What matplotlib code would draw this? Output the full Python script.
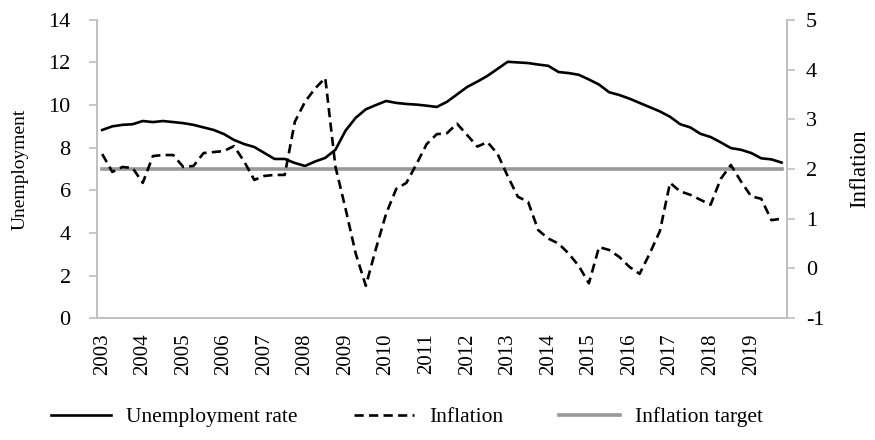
import numpy as np
import matplotlib
matplotlib.use("Agg")
import matplotlib.pyplot as plt

plt.rcParams['font.family'] = ['Liberation Serif', 'DejaVu Serif']
plt.rcParams['axes.unicode_minus'] = False

# quarterly data 2003Q1 - 2019Q4
years = list(range(2003, 2020))
unemployment = [
    8.83, 9.00, 9.07, 9.10, 9.25, 9.20, 9.25, 9.20,
    9.15, 9.07, 8.95, 8.83, 8.64, 8.36, 8.17, 8.03,
    7.75, 7.47, 7.47, 7.28, 7.14, 7.35, 7.52, 7.90,
    8.80, 9.40, 9.80, 10.00, 10.19, 10.10, 10.05, 10.02,
    9.97, 9.91, 10.15, 10.50, 10.85, 11.10, 11.37, 11.70,
    12.03, 12.00, 11.97, 11.90, 11.84, 11.55, 11.50, 11.42,
    11.20, 10.96, 10.60, 10.47, 10.30, 10.10, 9.90, 9.70,
    9.45, 9.10, 8.95, 8.65, 8.50, 8.25, 7.98, 7.90,
    7.75, 7.50, 7.45, 7.30,
]
inflation = [
    2.30, 1.94, 2.04, 2.02, 1.72, 2.26, 2.28, 2.28,
    2.04, 2.06, 2.32, 2.34, 2.36, 2.46, 2.15, 1.78,
    1.86, 1.88, 1.88, 2.95, 3.35, 3.62, 3.83, 2.05,
    1.20, 0.30, -0.35, 0.40, 1.10, 1.60, 1.72, 2.10,
    2.50, 2.70, 2.72, 2.91, 2.68, 2.45, 2.54, 2.30,
    1.85, 1.44, 1.34, 0.77, 0.60, 0.50, 0.30, 0.05,
    -0.30, 0.43, 0.37, 0.23, 0.03, -0.11, 0.30, 0.75,
    1.72, 1.55, 1.48, 1.38, 1.28, 1.80, 2.08, 1.75,
    1.45, 1.40, 0.97, 1.00,
]
inflation_target = 2.0

x = np.arange(len(unemployment))
grey = '#bfbfbf'

fig = plt.figure(figsize=(8.75, 4.4), dpi=100)
ax = fig.add_axes([0.111, 0.277, 0.788, 0.678])
ax2 = ax.twinx()

l1, = ax.plot(x, unemployment, color='black', lw=1.9, label='Unemployment rate')
l3, = ax2.plot(x, np.full(len(x), inflation_target), color='#999999', lw=2.6,
               label='Inflation target', zorder=1)
l2, = ax2.plot(x, inflation, color='black', lw=1.9, ls=(0, (3.5, 2.0)),
               label='Inflation', zorder=3)

ax.set_xlim(-0.5, len(x) - 0.5)
ax.set_ylim(0, 14)
ax.set_yticks(range(0, 15, 2))
ax2.set_ylim(-1, 5)
ax2.set_yticks(range(-1, 6))

ax.set_xticks(x[::4])
ax.set_xticklabels([str(y) for y in years], rotation=90)

for a in (ax, ax2):
    a.spines['top'].set_visible(False)
    for s in ('left', 'right', 'bottom'):
        a.spines[s].set_color(grey)
        a.spines[s].set_linewidth(1.2)
    a.tick_params(axis='y', colors=grey, labelcolor='black', labelsize=16,
                  length=6, width=1.2, direction='out')
ax.tick_params(axis='y', pad=13)
ax2.tick_params(axis='y', pad=8)
ax.tick_params(axis='x', length=0, labelsize=15, pad=11)

ax.set_ylabel('Unemployment', fontsize=14, labelpad=14)
ax2.set_ylabel('Inflation', fontsize=16.5, labelpad=18)

fig.legend(handles=[l1, l2, l3], loc='lower center', bbox_to_anchor=(0.465, -0.015),
           ncol=3, frameon=False, fontsize=15.5, handlelength=2.8,
           columnspacing=2.6, handletextpad=0.7)

fig.savefig('out.png', dpi=100)
